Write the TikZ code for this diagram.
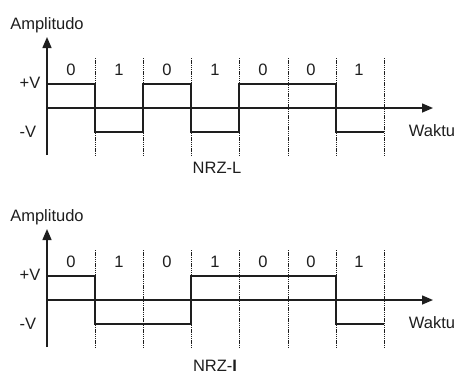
\documentclass[tikz,border=0pt]{standalone}
\usepackage{fontspec}
\setmainfont{Liberation Sans}
\usetikzlibrary{arrows.meta}
\definecolor{ink}{HTML}{1E1E1E}
\begin{document}
\begin{tikzpicture}[x=1pt,y=-1pt,
  axisline/.style={line width=1.5pt, draw=ink, -{Triangle[length=11pt,width=9pt]}},
  wave/.style={line width=2.2pt, draw=ink, line join=miter},
  gridline/.style={line width=1pt, draw=ink, dash pattern=on 1.3pt off 0.9pt},
  lbl/.style={font=\fontsize{16.5}{16.5}\selectfont, text=ink, inner sep=0pt},
]
\useasboundingbox (0,0) rectangle (459,376);
% ---------- top panel: NRZ-L ----------
\coordinate (t-o) at (47,108);
\coordinate (t-ybot) at (47,155);
\coordinate (t-ytop) at (47,37);
\coordinate (t-xend) at (433,108);
\foreach \x [count=\i] in {95,143,191,239,288,336,384}{
  \coordinate (t-d\i a) at (\x,58);
  \coordinate (t-d\i b) at (\x,155);
  \draw[gridline] (t-d\i a) -- (t-d\i b);
}
\draw[axisline] (t-o) -- (t-xend);
\draw[axisline] (t-ybot) -- (t-ytop);
\draw[wave] (47,84) -- (95,84) -- (95,132) -- (143,132) -- (143,84) -- (191,84)
  -- (191,132) -- (239,132) -- (239,84) -- (336,84) -- (336,132) -- (384,132);
\node[lbl] (t-amp) at (47,25) {Amplitudo};
\node[lbl] (t-pv) at (30,83) {+V};
\node[lbl] (t-mv) at (28,132) {-V};
\node[lbl] (t-wk) at (432,131) {Waktu};
\foreach \b/\x [count=\i] in {0/71,1/119,0/167,1/215,0/263,0/311,1/359}
  \node[lbl] (t-b\i) at (\x,70) {\b};
\node[lbl] (t-name) at (217,168) {NRZ-L};
% ---------- bottom panel: NRZ-I ----------
\coordinate (b-o) at (47,300);
\coordinate (b-ybot) at (47,347);
\coordinate (b-ytop) at (47,229);
\coordinate (b-xend) at (433,300);
\foreach \x [count=\i] in {95,143,191,239,288,336,384}{
  \coordinate (b-d\i a) at (\x,250);
  \coordinate (b-d\i b) at (\x,347);
  \draw[gridline] (b-d\i a) -- (b-d\i b);
}
\draw[axisline] (b-o) -- (b-xend);
\draw[axisline] (b-ybot) -- (b-ytop);
\draw[wave] (47,276) -- (95,276) -- (95,324) -- (191,324) -- (191,276)
  -- (336,276) -- (336,324) -- (384,324);
\node[lbl] (b-amp) at (47,217) {Amplitudo};
\node[lbl] (b-pv) at (30,275) {+V};
\node[lbl] (b-mv) at (28,324) {-V};
\node[lbl] (b-wk) at (432,323) {Waktu};
\foreach \b/\x [count=\i] in {0/71,1/119,0/167,1/215,0/263,0/311,1/359}
  \node[lbl] (b-b\i) at (\x,262) {\b};
\node[lbl] (b-name) at (215,366) {NRZ-\textbf{I}};
\end{tikzpicture}
\end{document}
